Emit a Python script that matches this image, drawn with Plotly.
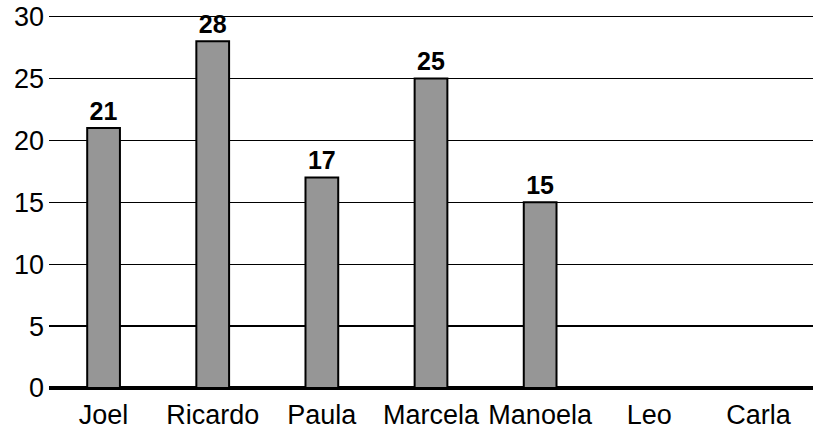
import plotly.graph_objects as go

names = ["Joel", "Ricardo", "Paula", "Marcela", "Manoela", "Leo", "Carla"]
values = [21, 28, 17, 25, 15, None, None]
labels = ["21", "28", "17", "25", "15", "", ""]

fig = go.Figure(
    go.Bar(
        x=names,
        y=values,
        text=labels,
        textposition="outside",
        textfont=dict(family="Liberation Sans, Arial", size=25, color="black", weight="bold"),
        marker=dict(color="#969696", line=dict(color="black", width=2)),
        width=0.3,
        cliponaxis=False,
    )
)

fig.update_layout(
    width=821,
    height=436,
    margin=dict(l=49, r=8, t=14, b=48),
    paper_bgcolor="white",
    plot_bgcolor="white",
    showlegend=False,
    font=dict(family="Liberation Sans, Arial", size=27, color="black"),
)
fig.update_xaxes(
    type="category",
    range=[-0.5, 6.5],
    showgrid=False,
    showline=False,
    ticks="",
    ticklabelstandoff=8,
    tickfont=dict(size=27),
    automargin=False,
)
fig.update_yaxes(
    range=[0, 30.2],
    tickvals=[0, 5, 10, 15, 20, 25, 30],
    showgrid=True,
    gridcolor="black",
    gridwidth=1.3,
    zeroline=True,
    zerolinecolor="black",
    zerolinewidth=3.5,
    ticks="",
    ticklabelstandoff=4,
    tickfont=dict(size=27),
    automargin=False,
)

fig.write_html(
    "out.html",
    config={"displayModeBar": False, "staticPlot": True},
    post_script="document.body.style.margin='0';document.body.style.padding='0';",
)
